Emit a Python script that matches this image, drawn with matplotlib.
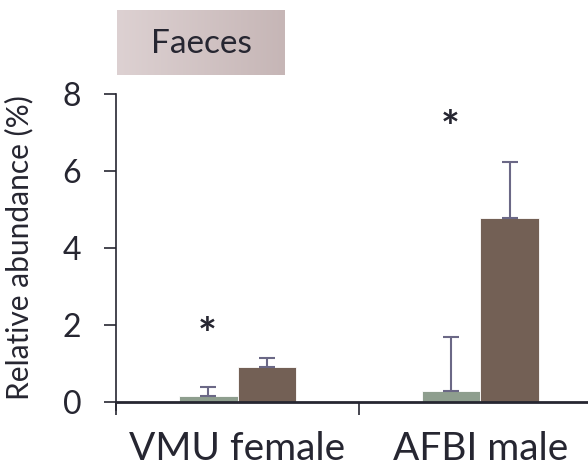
import numpy as np
import matplotlib.pyplot as plt
from matplotlib.colors import LinearSegmentedColormap

plt.rcParams['font.family'] = ['Lato', 'DejaVu Sans']

# Datos del gráfico
grupos = ['VMU female', 'AFBI male']
verde = [0.16, 0.28]
verde_err = [0.24, 1.42]
marron = [0.90, 4.78]
marron_err = [0.25, 1.45]
estrella_y = [1.72, 7.08]

c_verde = '#8e9e8e'
c_marron = '#736055'
c_err = '#6b6886'
c_eje = '#262631'

fig = plt.figure(figsize=(5.88, 4.72), dpi=100)
ax = fig.add_axes([116/588, 1 - 402/472, 1 - 116/588, 308/472])

x = np.arange(len(grupos)) + 0.5
w = 0.24
ax.bar(x - w/2, verde, w, color=c_verde, edgecolor='white', linewidth=0.6)
ax.bar(x + w/2, marron, w, color=c_marron, edgecolor='white', linewidth=0.6)
ax.errorbar(x - w/2, verde, yerr=[np.zeros(2), verde_err], fmt='none',
            ecolor=c_err, elinewidth=1.5, capsize=6, capthick=1.5)
ax.errorbar(x + w/2, marron, yerr=[np.zeros(2), marron_err], fmt='none',
            ecolor=c_err, elinewidth=1.5, capsize=6, capthick=1.5)

for xi, yi in zip(x - w/2 - 0.005, estrella_y):
    ax.text(xi, yi, '*', ha='center', va='center', fontsize=32,
            color=c_eje, fontweight='bold')

ax.set_xlim(0, 472/243)
ax.set_ylim(0, 8)
ax.set_yticks([0, 2, 4, 6, 8])
ax.set_xticks([0, 1])
ax.set_xticklabels([])
ax.set_xticks(x, minor=True)
ax.set_xticklabels(grupos, minor=True, fontsize=28, color=c_eje)
ax.tick_params(axis='x', which='minor', length=0, pad=21)
ax.tick_params(axis='x', which='major', length=9, width=1.2, color=c_eje)
ax.tick_params(axis='y', length=9, width=1.2, color=c_eje, labelsize=23,
               labelcolor=c_eje, pad=16)
ax.set_ylabel('Relative abundance (%)', fontsize=21.5, color=c_eje, labelpad=6)
ax.yaxis.set_label_coords(-0.175, 0.5)

for s in ['top', 'right']:
    ax.spines[s].set_visible(False)
ax.spines['left'].set_color(c_eje)
ax.spines['bottom'].set_color(c_eje)
ax.spines['left'].set_linewidth(1.2)
ax.spines['bottom'].set_linewidth(2)
ax.spines['left'].set_bounds(-0.2, 8)

# Recuadro del título con degradado
tax = fig.add_axes([117/588, 1 - 75/472, 168/588, 65/472])
grad = np.linspace(0, 1, 256).reshape(1, -1)
cmap = LinearSegmentedColormap.from_list('caja', ['#ddd1d2', '#c6b6b6'])
tax.imshow(grad, aspect='auto', cmap=cmap, extent=[0, 1, 0, 1])
tax.set_xlim(0, 1)
tax.set_ylim(0, 1)
tax.axis('off')
tax.text(0.5, 0.47, 'Faeces', ha='center', va='center', fontsize=24, color=c_eje)

fig.savefig('out.png', dpi=100)
